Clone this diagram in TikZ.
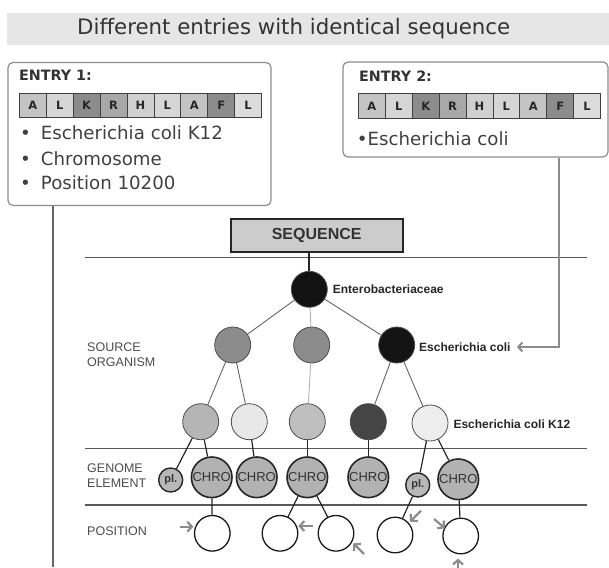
\documentclass[tikz,border=0pt]{standalone}
\usepackage{fontspec}
\setmainfont{DejaVu Sans}
\newfontfamily\arialfont{Liberation Sans}
\usetikzlibrary{arrows.meta}

\definecolor{bandgray}{HTML}{E6E6E6}
\definecolor{cA}{HTML}{C4C4C4}
\definecolor{cL}{HTML}{D6D6D6}
\definecolor{cK}{HTML}{8C8C8C}
\definecolor{cR}{HTML}{A8A8A8}
\definecolor{cH}{HTML}{D0D0D0}
\definecolor{cL2}{HTML}{DCDCDC}
\definecolor{txtgray}{HTML}{404040}

\tikzset{
  sepline/.style={draw=black!65, line width=1.4pt},
  entrybox/.style={draw=black!45, line width=1.2pt, rounded corners=5pt, inner sep=0pt},
  cell/.style={draw=black!75, line width=0.9pt, minimum width=26.9pt, minimum height=24pt,
    inner sep=0pt, anchor=north west, font=\bfseries\fontsize{11.5}{11.5}\selectfont, text=black!85},
  entryhead/.style={anchor=west, inner sep=0pt, font=\bfseries\fontsize{14.3}{15}\selectfont, text=black!80},
  entrytext/.style={anchor=west, inner sep=0pt, font=\fontsize{18.2}{19}\selectfont, text=txtgray},
  dot/.style={circle, draw=black!70, line width=0.8pt, inner sep=0pt, minimum size=36pt},
  chro/.style={circle, draw=black!85, line width=1.6pt, inner sep=0pt, minimum size=40.6pt,
    fill=black!30, font=\arialfont\fontsize{13}{13}\selectfont, text=black!80},
  plas/.style={circle, draw=black!85, line width=1.4pt, inner sep=0pt, minimum size=24pt,
    fill=black!28, font=\arialfont\bfseries\fontsize{11}{11}\selectfont, text=black!80},
  posn/.style={circle, draw=black!90, line width=1.3pt, inner sep=0pt, minimum size=35.6pt, fill=white},
  lbl/.style={anchor=west, inner sep=0pt, font=\arialfont\bfseries\fontsize{12}{12}\selectfont, text=black!85},
  rowlbl/.style={anchor=west, inner sep=0pt, align=left,
    font=\arialfont\fontsize{12.5}{14.5}\selectfont, text=black!70},
  treeedge/.style={draw=black!60, line width=0.9pt},
  lightedge/.style={draw=black!30, line width=0.9pt},
  darkedge/.style={draw=black!85, line width=1.2pt},
  pointer/.style={draw=black!45, line width=2.2pt, -{Straight Barb[length=4.5pt, width=10pt]}},
}

\begin{document}
\begin{tikzpicture}[x=1pt, y=-1pt]
\useasboundingbox (0,0) rectangle (609,567);

% title band
\node[fill=bandgray, minimum width=602pt, minimum height=32pt, inner sep=0pt, anchor=north west] (band) at (7,13) {};
\node[anchor=west, inner sep=0pt, font=\fontsize{21.3}{22}\selectfont, text=black!80] (title) at (77,29)
  {Different entries with identical sequence};

% entry 1
\node[entrybox, minimum width=263pt, minimum height=143pt] (entry1) at (139.5,134) {};
\node[entryhead] (e1head) at (19,75.5) {ENTRY 1:};
\foreach \l/\c [count=\i from 0] in {A/cA,L/cL,K/cK,R/cR,H/cH,L/cL,A/cA,F/cK,L/cL2}
  \node[cell, fill=\c] (e1c\i) at ({19+26.9*\i},93) {\l};
\node[entrytext] (e1b1) at (20,132.7) {•\hspace{10pt}Escherichia coli K12};
\node[entrytext] (e1b2) at (20,158.3) {•\hspace{10pt}Chromosome};
\node[entrytext] (e1b3) at (20,182.7) {•\hspace{10pt}Position 10200};

% entry 2
\node[entrybox, minimum width=265pt, minimum height=95pt] (entry2) at (475.5,109.5) {};
\node[entryhead] (e2head) at (359,76.5) {ENTRY 2:};
\foreach \l/\c [count=\i from 0] in {A/cA,L/cL,K/cK,R/cR,H/cH,L/cL,A/cA,F/cK,L/cL2}
  \node[cell, fill=\c] (e2c\i) at ({358+26.9*\i},93.5) {\l};
\node[entrytext] (e2b1) at (356.7,138.3) {•Escherichia coli};

% level separators
\coordinate (sl1) at (85,257.7);  \coordinate (sr1) at (587,257.7);
\coordinate (sl2) at (85,448.3);  \coordinate (sr2) at (587,448.3);
\coordinate (sl3) at (85,505);    \coordinate (sr3) at (587,505);
\draw[sepline] (sl1) -- (sr1);
\draw[sepline] (sl2) -- (sr2);
\draw[sepline] (sl3) -- (sr3);

% sequence box
\node[draw=black!85, line width=1.8pt, fill=black!20, minimum width=172pt, minimum height=32.4pt,
  inner sep=0pt, font=\arialfont\bfseries\fontsize{16}{16}\selectfont, text=black!80] (seq) at (316.7,235.5) {SEQUENCE};

% taxonomy nodes
\node[dot, fill=black!93] (ent) at (309.3,289.3) {};
\node[dot, fill=black!45] (o1) at (232.7,345) {};
\node[dot, fill=black!45] (o2) at (311.7,345) {};
\node[dot, fill=black!92] (o3) at (396.7,345) {};
\node[dot, fill=black!29] (s1) at (200.7,421.7) {};
\node[dot, fill=black!9]  (s2) at (249.3,421.7) {};
\node[dot, fill=black!25] (s3) at (307.3,421.7) {};
\node[dot, fill=black!73] (s4) at (368.3,421.7) {};
\node[dot, fill=black!7]  (s5) at (430,423) {};

% genome elements
\node[plas] (pl1) at (170.7,480) {pl.};
\node[chro] (c1) at (211.7,477.3) {CHRO};
\node[chro] (c2) at (256.7,477.3) {CHRO};
\node[chro] (c3) at (307.3,477.3) {CHRO};
\node[chro] (c4) at (368.3,477.3) {CHRO};
\node[plas] (pl2) at (417.7,485) {pl.};
\node[chro] (c5) at (458.3,479.3) {CHRO};

% positions
\node[posn] (p1) at (212.3,533.3) {};
\node[posn] (p2) at (280,533.3) {};
\node[posn] (p3) at (336,533.3) {};
\node[posn] (p4) at (395,535) {};
\node[posn] (p5) at (460.7,536) {};

% labels
\node[lbl] (lent) at (332.7,289) {Enterobacteriaceae};
\node[lbl] (lec) at (419,347) {Escherichia coli};
\node[lbl] (lk12) at (453.3,424) {Escherichia coli K12};
\node[rowlbl] (rsrc) at (87,354.5) {SOURCE\\ORGANISM};
\node[rowlbl] (rgen) at (87,475.5) {GENOME\\ELEMENT};
\node[rowlbl] (rpos) at (87,531) {POSITION};

% tree edges
\draw[black!85, line width=1.8pt] (seq.south -| ent) -- (ent);
\draw[treeedge] (ent) -- (o1);
\draw[lightedge] (ent) -- (o2);
\draw[treeedge] (ent) -- (o3);
\draw[treeedge] (o1) -- (s1);
\draw[treeedge] (o1) -- (s2);
\draw[lightedge] (o2) -- (s3);
\draw[treeedge] (o3) -- (s4);
\draw[treeedge] (o3) -- (s5);
\draw[darkedge] (s1) -- (pl1);
\draw[darkedge] (s1) -- (c1);
\draw[darkedge] (s2) -- (c2);
\draw[darkedge] (s3) -- (c3);
\draw[darkedge] (s4) -- (c4);
\draw[darkedge] (s5) -- (pl2);
\draw[darkedge] (s5) -- (c5);
\draw[darkedge] (c1) -- (p1);
\draw[darkedge] (c3) -- (p2);
\draw[darkedge] (c3) -- (p3);
\draw[darkedge] (pl2) -- (p4);
\draw[darkedge] (c5) -- (p5);

% entry connectors
\coordinate (e1end) at (53,567);
\draw[black!60, line width=1.5pt] (entry1.south -| e1end) -- (e1end);
\coordinate (e2x) at (559,157);
\coordinate (ectip) at (517,347);
\draw[pointer, line width=2pt, -{Straight Barb[length=4pt, width=9pt]}] (entry2.south -| e2x) |- (ectip);

% position pointers
\coordinate (a1s) at (179.7,526.7); \coordinate (a1e) at (193.3,526.7);
\coordinate (a2s) at (312.7,526);   \coordinate (a2e) at (298.3,526);
\coordinate (a3s) at (364,554);     \coordinate (a3e) at (353.3,543.3);
\coordinate (a4s) at (421,510.7);   \coordinate (a4e) at (410,521.7);
\coordinate (a5s) at (434,519);     \coordinate (a5e) at (445,528.3);
\coordinate (a6s) at (458,568);     \coordinate (a6e) at (458,558.5);
\foreach \k in {1,...,6}
  \draw[pointer] (a\k s) -- (a\k e);
\end{tikzpicture}
\end{document}
